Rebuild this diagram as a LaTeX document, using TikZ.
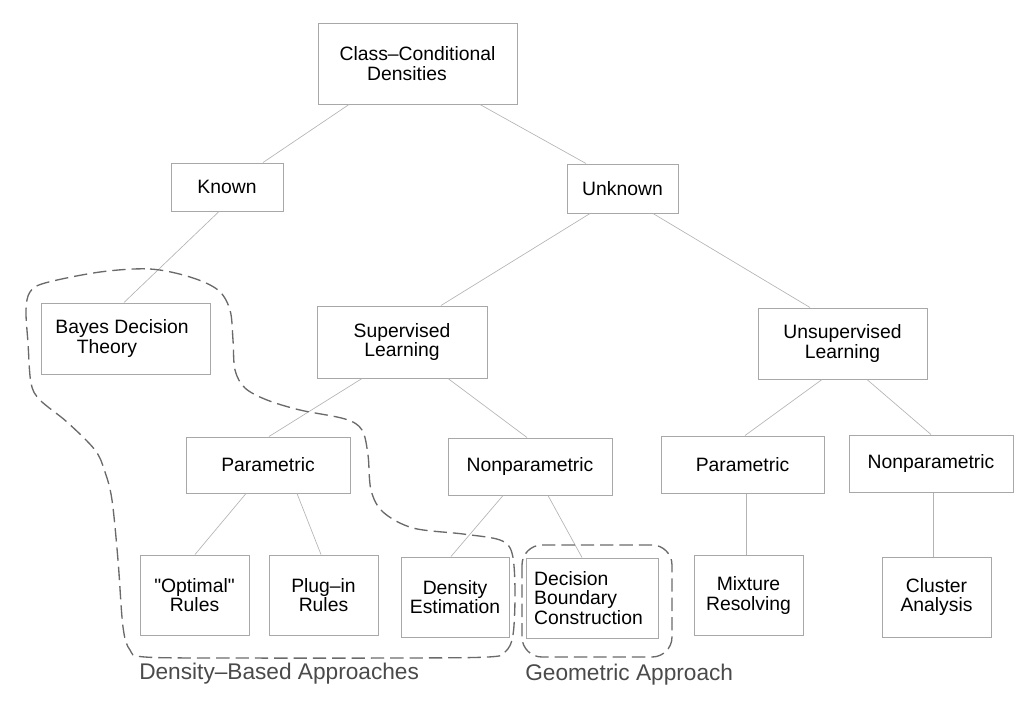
\documentclass[tikz,border=0pt]{standalone}
\usepackage{fontspec}
\setmainfont{Liberation Sans}
\newfontfamily\plainq{Liberation Sans}
\usetikzlibrary{calc}
\definecolor{boxgray}{HTML}{A8A8A8}
\definecolor{linegray}{HTML}{B4B4B4}
\definecolor{dashgray}{HTML}{6A6A6A}
\definecolor{labelgray}{HTML}{4A4A4A}
\begin{document}
\begin{tikzpicture}[x=0.75pt,y=-0.75pt,
  box/.style={draw=boxgray, line width=0.75pt, inner sep=0pt, align=center,
    font=\fontsize{14.5pt}{14.6pt}\selectfont},
  wh/.style 2 args={minimum width=#1*0.75pt, minimum height=#2*0.75pt},
  link/.style={draw=linegray, line width=0.5pt},
  region/.style={draw=dashgray, line width=1pt, dash pattern=on 10pt off 4.5pt},
  tag/.style={text=labelgray, font=\fontsize{17pt}{17pt}\selectfont, inner sep=0pt}]
\useasboundingbox (0,0) rectangle (1033,701);

% boxes
\node[box, wh={199}{81}] (ccd) at (417.5,63.5) {Class–Conditional\\Densities\hspace*{15.75pt}};
\node[box, wh={112}{48}] (known) at (227,187) {Known};
\node[box, wh={111}{49}] (unknown) at (622.5,188.5) {Unknown};
\node[box, wh={169}{71}] (bayes) at (125.5,338.5) {Bayes Decision\hspace*{5.25pt}\\Theory\hspace*{27.75pt}};
\node[box, wh={170}{72}] (sup) at (402,342) {Supervised\\Learning};
\node[box, wh={169}{71}] (unsup) at (842.5,343.5) {Unsupervised\\Learning};
\node[box, wh={164}{56}] (parL) at (268,465) {Parametric};
\node[box, wh={164}{57}] (nonpM) at (530,466.5) {Nonparametric};
\node[box, wh={163}{57}] (parR) at (742.5,464.5) {Parametric};
\node[box, wh={164}{57}] (nonpR) at (931,463.5) {Nonparametric};
\node[box, wh={109}{80}] (opt) at (194.5,595) {{\plainq"}Optimal{\plainq"}\\Rules};
\node[box, wh={109}{80}] (plug) at (323.5,595) {Plug–in\\Rules};
\node[box, wh={108}{80}] (dens) at (455,597) {Density\\Estimation};
\node[box, wh={132}{80}, align=left] (dbc) at (592,598) {Decision\\Boundary\\Construction\hspace*{5.25pt}};
\node[box, wh={109}{80}] (mix) at (748.5,595.5) {Mixture\\Resolving};
\node[box, wh={109}{80}] (clus) at (936.5,597) {Cluster\\Analysis};

% connectors
\draw[link] ($(ccd.south)+(-68.5,0)$) -- ($(known.north)+(36,0)$);
\draw[link] ($(ccd.south)+(62.5,0)$) -- ($(unknown.north)+(-36.5,0)$);
\draw[link] ($(known.south)+(-8,0)$) -- ($(bayes.north)+(-1.5,0)$);
\draw[link] ($(unknown.south)+(-32.5,0)$) -- ($(sup.north)+(39,0)$);
\draw[link] ($(unknown.south)+(30.5,0)$) -- ($(unsup.north)+(-32.5,0)$);
\draw[link] ($(sup.south)+(-40,0)$) -- ($(parL.north)+(1,0)$);
\draw[link] ($(sup.south)+(46,0)$) -- ($(nonpM.north)+(-3,0)$);
\draw[link] ($(unsup.south)+(-20.5,0)$) -- ($(parR.north)+(2.5,0)$);
\draw[link] ($(unsup.south)+(24.5,0)$) -- ($(nonpR.north)+(0,0)$);
\draw[link] ($(parL.south)+(-22,0)$) -- ($(opt.north)+(0.5,0)$);
\draw[link] ($(parL.south)+(29,0)$) -- ($(plug.north)+(-2.5,0)$);
\draw[link] ($(nonpM.south)+(-27,0)$) -- ($(dens.north)+(-4,0)$);
\draw[link] ($(nonpM.south)+(18,0)$) -- ($(dbc.north)+(-10,0)$);
\draw[link] ($(parR.south)+(3.5,0)$) -- ($(mix.north)+(-2.5,0)$);
\draw[link] ($(nonpR.south)+(2,0)$) -- ($(clus.north)+(-3.5,0)$);

% dashed regions
\draw[region] plot[smooth cycle, tension=0.55] coordinates {
  (100,272) (150,269) (190,277) (218,290) (230,310) (233,340) (235,370)
  (245,388) (267,400) (300,410) (345,419) (362,430) (368,455) (371,490)
  (383,512) (413,528) (463,534) (500,540) (512,553) (515,590) (513,635)
  (505,652) (488,657) (400,658) (233,658) (145,657) (130,650) (123,627)
  (118,560) (112,500) (105,472) (95,450) (67,422) (40,400) (31,383)
  (28,343) (26,310) (30,292) (45,283)};
\draw[region, rounded corners=15pt] (522,545) rectangle (672,657);

% labels
\node[tag, anchor=base west] (lblA) at (139,679) {Density–Based Approaches};
\node[tag, anchor=base west] (lblB) at (525,680) {Geometric Approach};
\end{tikzpicture}
\end{document}
